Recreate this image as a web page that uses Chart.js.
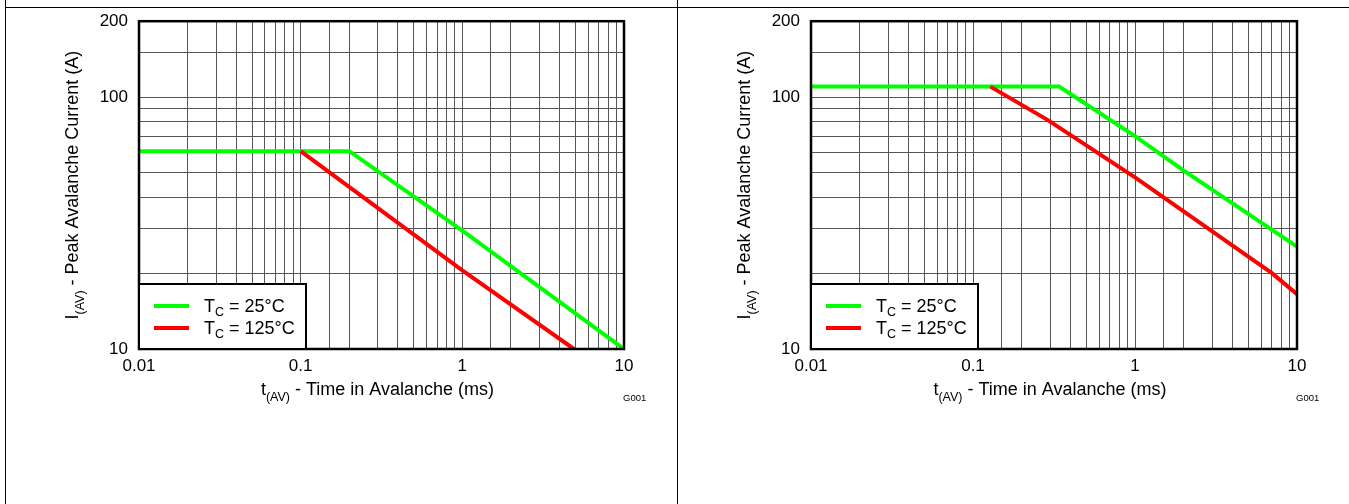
<!DOCTYPE html>
<html>
<head>
<meta charset="utf-8">
<title>Peak Avalanche Current vs Time in Avalanche</title>
<script src="https://cdn.jsdelivr.net/npm/chart.js@4.4.0/dist/chart.umd.min.js"></script>
<style>
  html, body { margin: 0; padding: 0; background: #fff; }
  body { width: 1349px; height: 504px; position: relative; overflow: hidden; }
  .panel { position: absolute; top: 0; height: 504px; }
  .rule { position: absolute; background: #000; z-index: 2; }
</style>
</head>
<body>
<div class="rule" style="left:5px; top:0; width:1px; height:504px;"></div>
<div class="rule" style="left:677px; top:0; width:1px; height:504px;"></div>
<div class="rule" style="left:5px; top:7px; width:1344px; height:1px;"></div>
<div class="panel" style="left:6px; width:670px;"><canvas id="left-chart"></canvas></div>
<div class="panel" style="left:678px; width:671px;"><canvas id="right-chart"></canvas></div>
<script>
// time in avalanche (ms) and peak current (A)
const leftGreenT = [0.01, 0.2, 1, 10];
const leftGreenI = [61, 61, 29.5, 10];
const leftRedT = [0.1, 1, 4.9];
const leftRedI = [61, 20.5, 10];

const rightGreenT = [0.01, 0.34, 1, 2, 10];
const rightGreenI = [110, 110, 70, 51, 25.5];
const rightRedT = [0.128, 0.29, 1, 7, 10];
const rightRedI = [110, 81, 48, 20, 16.5];

const seriesTemps = ['25°C', '125°C'];
const seriesColors = ['#00ff00', '#ff0000'];
const xTickLabels = [0.01, 0.1, 1, 10];
const yTickLabels = [10, 100, 200];

const FONT = '"Liberation Sans", Arial, sans-serif';

function toPoints(ts, vals) {
  return ts.map((t, i) => ({ x: t, y: vals[i] }));
}

function findLabel(value, list) {
  const hit = list.find(v => Math.abs(Math.log10(v) - Math.log10(value)) < 1e-6);
  return hit === undefined ? '' : String(hit);
}

// draws text pieces in a row, some of them as subscripts
function drawParts(ctx, parts, x, y, size, subSize, subDrop) {
  let cx = x;
  parts.forEach(p => {
    ctx.font = (p.sub ? subSize : size) + 'px ' + FONT;
    ctx.fillText(p.t, cx, p.sub ? y + subDrop : y);
    cx += ctx.measureText(p.t).width;
  });
}

function partsWidth(ctx, parts, size, subSize) {
  return parts.reduce((sum, p) => {
    ctx.font = (p.sub ? subSize : size) + 'px ' + FONT;
    return sum + ctx.measureText(p.t).width;
  }, 0);
}

const decorPlugin = {
  id: 'decor',
  afterDatasetsDraw(chart) {
    const ctx = chart.ctx;
    const a = chart.chartArea;
    ctx.save();

    // plot frame
    ctx.strokeStyle = '#000';
    ctx.lineWidth = 2.5;
    ctx.strokeRect(a.left, a.top, a.right - a.left, a.bottom - a.top);

    ctx.fillStyle = '#000';
    ctx.textBaseline = 'alphabetic';
    ctx.textAlign = 'left';

    // x title
    const xParts = [{ t: 't' }, { t: '(AV)', sub: true }, { t: ' - Time in Avalanche (ms)' }];
    const xw = partsWidth(ctx, xParts, 18, 12.5);
    drawParts(ctx, xParts, (a.left + a.right) / 2 - 4 - xw / 2, 395, 18, 12.5, 6);

    // y title
    const yParts = [{ t: 'I' }, { t: '(AV)', sub: true }, { t: ' - Peak Avalanche Current (A)' }];
    const yw = partsWidth(ctx, yParts, 18, 12.5);
    ctx.save();
    ctx.translate(a.left - 61, (a.top + a.bottom) / 2);
    ctx.rotate(-Math.PI / 2);
    drawParts(ctx, yParts, -yw / 2, 0, 18, 12.5, 6);
    ctx.restore();

    // figure id
    ctx.font = '9.5px ' + FONT;
    ctx.fillText('G001', a.right - 1, 401);

    // legend
    const bx = a.left, bw = 167, bh = 65, by = a.bottom - bh;
    ctx.fillStyle = '#fff';
    ctx.fillRect(bx, by, bw, bh);
    ctx.strokeStyle = '#000';
    ctx.lineWidth = 2;
    ctx.strokeRect(bx, by, bw, bh);
    seriesTemps.forEach((temp, i) => {
      const ly = by + 22 + i * 22;
      ctx.strokeStyle = seriesColors[i];
      ctx.lineWidth = 4;
      ctx.beginPath();
      ctx.moveTo(bx + 15, ly);
      ctx.lineTo(bx + 50, ly);
      ctx.stroke();
      ctx.fillStyle = '#000';
      drawParts(ctx, [{ t: 'T' }, { t: 'C', sub: true }, { t: ' = ' + temp }], bx + 65, ly + 6, 18, 12.5, 4);
    });
    ctx.restore();
  }
};

function makeChart(id, greenT, greenI, redT, redI) {
  return new Chart(document.getElementById(id), {
    type: 'line',
    data: {
      datasets: [
        {
          label: 'TC = ' + seriesTemps[0],
          data: toPoints(greenT, greenI),
          borderColor: seriesColors[0],
          borderWidth: 4,
          pointRadius: 0,
          tension: 0,
          order: 1
        },
        {
          label: 'TC = ' + seriesTemps[1],
          data: toPoints(redT, redI),
          borderColor: seriesColors[1],
          borderWidth: 4,
          pointRadius: 0,
          tension: 0,
          order: 0
        }
      ]
    },
    options: {
      responsive: false,
      animation: false,
      devicePixelRatio: 1,
      layout: { padding: { top: 20, right: 52, left: 0, bottom: 0 } },
      plugins: { legend: { display: false }, tooltip: { enabled: false } },
      scales: {
        x: {
          type: 'logarithmic',
          min: 0.01,
          max: 10,
          grid: { color: '#555', lineWidth: 1, drawTicks: false },
          border: { display: false },
          ticks: {
            autoSkip: false,
            maxRotation: 0,
            padding: 7,
            color: '#000',
            font: { family: FONT, size: 17 },
            callback: v => findLabel(v, xTickLabels)
          },
          afterFit: s => { s.height = 155; }
        },
        y: {
          type: 'logarithmic',
          min: 10,
          max: 200,
          grid: { color: '#555', lineWidth: 1, drawTicks: false },
          border: { display: false },
          ticks: {
            autoSkip: false,
            padding: 11,
            color: '#000',
            font: { family: FONT, size: 17 },
            callback: v => findLabel(v, yTickLabels)
          },
          afterFit: s => { s.width = 133; }
        }
      }
    },
    plugins: [decorPlugin]
  });
}

document.getElementById('left-chart').width = 670;
document.getElementById('left-chart').height = 504;
document.getElementById('right-chart').width = 671;
document.getElementById('right-chart').height = 504;

makeChart('left-chart', leftGreenT, leftGreenI, leftRedT, leftRedI);
makeChart('right-chart', rightGreenT, rightGreenI, rightRedT, rightRedI);
</script>
</body>
</html>
